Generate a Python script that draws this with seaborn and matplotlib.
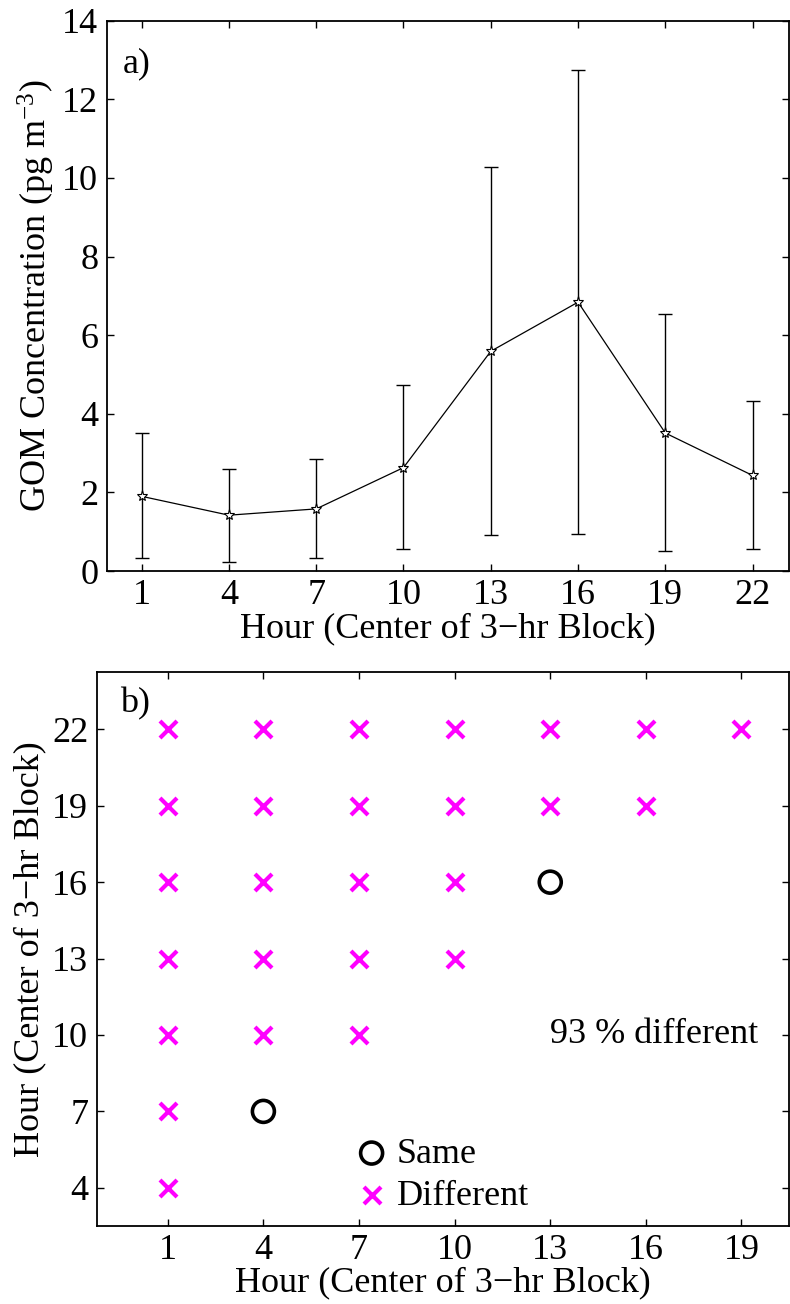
import matplotlib
matplotlib.use("Agg")
import matplotlib.pyplot as plt
import seaborn as sns
import pandas as pd
import numpy as np

# ---- data ----
hours = [1, 4, 7, 10, 13, 16, 19, 22]
gom_mean = [1.90, 1.42, 1.58, 2.63, 5.59, 6.84, 3.51, 2.43]
gom_upper = [3.50, 2.60, 2.84, 4.73, 10.27, 12.74, 6.53, 4.33]
gom_lower = [0.34, 0.23, 0.34, 0.56, 0.92, 0.95, 0.50, 0.56]

diff_x = [1, 1, 1, 1, 1, 1, 1, 4, 4, 4, 4, 4, 7, 7, 7, 7, 7, 10, 10, 10, 10, 13, 13, 16, 16, 19]
diff_y = [4, 7, 10, 13, 16, 19, 22, 10, 13, 16, 19, 22, 10, 13, 16, 19, 22, 13, 16, 19, 22, 19, 22, 19, 22, 22]
same_x = [4, 13]
same_y = [7, 16]

xticks_a = [1, 4, 7, 10, 13, 16, 19, 22]
yticks_a = [0, 2, 4, 6, 8, 10, 12, 14]
xticks_b = [1, 4, 7, 10, 13, 16, 19]
yticks_b = [4, 7, 10, 13, 16, 19, 22]

sns.set_theme(style="white")
plt.rcParams["font.family"] = ["Liberation Serif", "DejaVu Serif"]
plt.rcParams["mathtext.fontset"] = "custom"
plt.rcParams["mathtext.rm"] = "Liberation Serif"
plt.rcParams["mathtext.it"] = "Liberation Serif:italic"
plt.rcParams["axes.unicode_minus"] = True
plt.rcParams["text.color"] = "black"
plt.rcParams["axes.labelcolor"] = "black"
plt.rcParams["xtick.color"] = "black"
plt.rcParams["ytick.color"] = "black"

FS = 26

fig = plt.figure(figsize=(7.9, 13.04), dpi=100)
W, H = 790, 1304
ax1 = fig.add_axes([106.7 / W, 1 - 571 / H, (789 - 106.7) / W, (571 - 20.7) / H])
ax2 = fig.add_axes([96.7 / W, 1 - 1226 / H, (789.3 - 96.7) / W, (1226 - 672.3) / H])

for ax in (ax1, ax2):
    for s in ax.spines.values():
        s.set_linewidth(1.3)
        s.set_color("black")
    ax.tick_params(direction="in", length=5, width=1.0, top=True, right=True,
                   bottom=True, left=True, labelsize=FS, colors="black", pad=6)
    ax.set_facecolor("white")

# ---- panel a ----
df_a = pd.DataFrame({"hour": hours, "gom": gom_mean,
                     "lo": gom_lower, "hi": gom_upper})
yerr = np.vstack([df_a["gom"] - df_a["lo"], df_a["hi"] - df_a["gom"]])
ax1.errorbar(df_a["hour"], df_a["gom"], yerr=yerr, fmt="none", ecolor="black",
             elinewidth=1.0, capsize=4.7, capthick=1.0)
sns.lineplot(data=df_a, x="hour", y="gom", ax=ax1, color="black", linewidth=0.9,
             marker="*", markersize=8, markerfacecolor="white",
             markeredgecolor="black", markeredgewidth=0.8)
ax1.set_xlim(-0.2, 23.25)
ax1.set_ylim(0, 14)
ax1.set_xticks(xticks_a)
ax1.set_yticks(yticks_a)
ax1.set_xlabel("Hour (Center of 3\u2212hr Block)", fontsize=FS, labelpad=0)
ax1.set_ylabel("GOM Concentration (pg m$^{\u22123}$)", fontsize=FS, labelpad=4)
ax1.text(0.024, 0.952, "a)", transform=ax1.transAxes, fontsize=FS,
         ha="left", va="top")

# ---- panel b ----
df_same = pd.DataFrame({"x": same_x, "y": same_y})
df_diff = pd.DataFrame({"x": diff_x, "y": diff_y})
sns.scatterplot(data=df_same, x="x", y="y", ax=ax2, marker="o", s=250,
                facecolors="none", edgecolor="black", linewidth=2.6,
                label="Same")
sns.scatterplot(data=df_diff, x="x", y="y", ax=ax2, marker="x", s=150,
                color="#ff00ff", linewidth=3.0, label="Different")
ax2.set_xlim(-1.23, 20.5)
ax2.set_ylim(2.5, 24.24)
ax2.set_xticks(xticks_b)
ax2.set_yticks(yticks_b)
ax2.set_xlabel("Hour (Center of 3\u2212hr Block)", fontsize=FS, labelpad=-1)
ax2.set_ylabel("Hour (Center of 3\u2212hr Block)", fontsize=FS, labelpad=4)
ax2.text(0.034, 0.973, "b)", transform=ax2.transAxes, fontsize=FS,
         ha="left", va="top")
ax2.text(13.0, 10.0, "93 % different", fontsize=FS, ha="left", va="center")
leg = ax2.legend(loc="center left", bbox_to_anchor=(0.35, 0.092), frameon=False,
                 fontsize=FS, handletextpad=0.2, labelspacing=0.25,
                 handlelength=1.0, borderaxespad=0)

fig.savefig("out.png", dpi=100, facecolor="white")
